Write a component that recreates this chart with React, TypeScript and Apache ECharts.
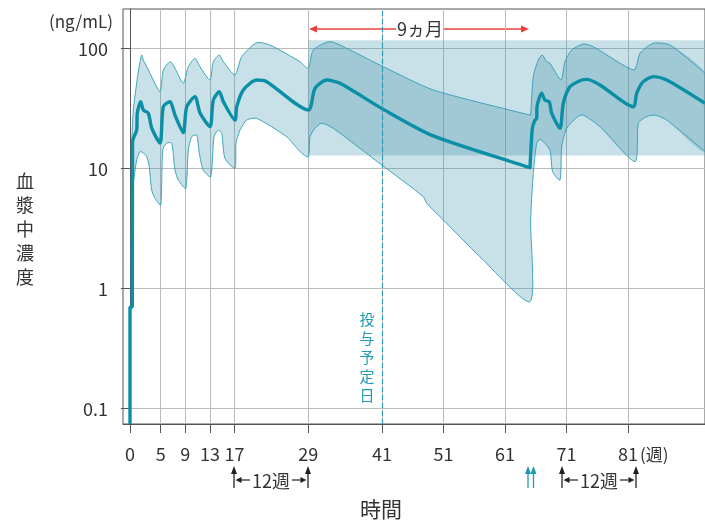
import React, { useEffect, useRef } from "react";
import * as echarts from "echarts";

// x-axis tick weeks and y-axis tick values (ng/mL)
const xTicks = [0, 5, 9, 13, 17, 29, 41, 51, 61, 71, 81];
const yTicks = [0.1, 1, 10, 100];

// median concentration [week, ng/mL]
const median: [number, number][] = [
  [0, 0.0736], [0, 0.695], [0.37, 0.695], [0.41, 16.6], [0.65, 18.2], [1.09, 20.7],
  [1.19, 28.7], [1.74, 35.7], [2.16, 30.4], [2.98, 28.6], [3.53, 21.5], [4.88, 16.1],
  [5.42, 32.4], [6.51, 35.7], [7.32, 27.6], [8.67, 19.7], [9.22, 32.4], [10.57, 39.3],
  [11.39, 28.7], [13.01, 22.1], [13.55, 36.8], [14.53, 43.3], [15.18, 35.7], [17.08, 25.1],
  [17.36, 32.4], [18.43, 44.7], [20.61, 54.1], [22.23, 52.4], [29.0, 30.4], [30.09, 46.1],
  [32.0, 54.1], [34.16, 50.8], [40.94, 31.4], [49.33, 18.5], [65.06, 10.06], [65.15, 10.0],
  [65.44, 21.4], [65.88, 25.1], [66.15, 25.9], [66.2, 32.4], [66.97, 41.9], [67.5, 36.8],
  [68.2, 35.7], [68.59, 28.6], [69.94, 21.4], [70.48, 34.6], [71.57, 47.6], [73.47, 54.1],
  [74.28, 54.8], [76.45, 49.2], [81.86, 32.4], [82.42, 41.9], [83.49, 52.4], [85.12, 57.7],
  [87.3, 54.1], [93.53, 34.6],
];

// upper bound of the range [week, ng/mL]
const upper: [number, number][] = [
  [0.28, 16.2], [0.54, 30.4], [1.09, 51.1], [1.35, 63.5], [1.9, 87.4], [2.16, 79.4],
  [2.44, 74.6], [3.25, 61.5], [4.88, 43.3], [5.42, 65.6], [6.51, 76.9], [7.04, 72.1],
  [8.67, 50.8], [9.48, 69.8], [10.57, 82.1], [11.39, 69.8], [13.01, 54.1], [13.55, 76.9],
  [14.53, 87.4], [15.18, 76.9], [17.08, 59.6], [18.17, 84.6], [20.61, 110.7], [22.77, 105.9],
  [27.65, 76.9], [29.0, 67.8], [29.81, 96.2], [32.53, 112.9], [35.78, 96.2], [41.2, 69.8],
  [49.33, 44.7], [65.06, 27.6], [65.17, 27.6], [65.6, 57.7], [66.41, 79.4], [67.06, 87.4],
  [67.78, 76.9], [68.31, 74.6], [70.1, 54.1], [70.75, 76.9], [71.84, 96.2], [73.73, 108],
  [75.36, 102.5], [81.98, 65.6], [82.95, 90.3], [85.12, 109.4], [87.83, 105.9], [93.53, 61.5],
];

// lower bound of the range [week, ng/mL]
const lower: [number, number][] = [
  [0.44, 6.56], [0.54, 7.5], [1.09, 11.7], [1.63, 13.7], [2.16, 13.3], [2.72, 12.4],
  [3.09, 10.6], [3.53, 6.56], [4.07, 5.59], [4.99, 4.92], [5.32, 14.1], [5.97, 16.1],
  [6.78, 16.1], [7.32, 9.6], [7.86, 7.94], [9.06, 6.77], [9.48, 14.1], [10.04, 18.2],
  [10.85, 18.8], [11.27, 13.3], [11.92, 9.6], [13.13, 8.46], [13.66, 18.2], [14.36, 20.7],
  [14.92, 19.5], [15.45, 12.0], [17.08, 9.94], [17.24, 16.1], [17.89, 20.7], [18.98, 25.1],
  [20.61, 25.9], [25.49, 18.2], [27.65, 13.7], [29.0, 12.4], [29.28, 18.2], [30.09, 21.4],
  [31.18, 23.6], [33.07, 21.4], [40.94, 10.6], [47.71, 5.77], [48.26, 5.08], [50.96, 3.69],
  [56.93, 1.82], [65.06, 0.769], [65.17, 3.69], [65.6, 9.03], [66.15, 16.1], [66.69, 17.3],
  [67.23, 16.6], [68.31, 14.1], [68.75, 9.3], [69.94, 7.94], [70.22, 15.0], [71.03, 21.4],
  [72.92, 27.1], [73.73, 27.6], [76.45, 22.1], [82.15, 11.3], [82.69, 23.6], [84.04, 26.8],
  [85.39, 27.6], [87.3, 25.1], [93.53, 13.7],
];

// target range box (from week 29 onward)
const targetStart = 29;
const targetLow = 12.7;
const targetHigh = 116;
const plannedDoseWeek = 41;

const yTitle = ["血", "漿", "中", "濃", "度"];
const doseLabel = ["投", "与", "予", "定", "日"];

const FONT = "'Noto Sans CJK JP', 'Noto Sans', sans-serif";
const TEAL = "#0a8fa6";
const EDGE = "#2e9db4";
const FILL = "rgba(50,140,166,0.27)";
const TXT = "#333";
const SMOOTH = 0.22;

export default function App() {
  const ref = useRef<HTMLDivElement>(null);
  useEffect(() => {
    if (!ref.current) return;
    const chart = echarts.init(ref.current, null, { renderer: "svg" });
    const xMin = -1.1385;
    const xMax = 93.53;

    const upArrow = (x: number, color: string) => [
      { type: "line", shape: { x1: x, y1: 472, x2: x, y2: 488 }, style: { stroke: color, lineWidth: 1.3 } },
      { type: "polygon", shape: { points: [[x, 466], [x - 3, 474], [x + 3, 474]] }, style: { fill: color } },
    ];
    const span = (xl: number, xr: number, y: number) => {
      const cx = (xl + xr) / 2;
      return [
        ...upArrow(xl, "#222"),
        ...upArrow(xr, "#222"),
        { type: "line", shape: { x1: xl + 5, y1: y, x2: xl + 16, y2: y }, style: { stroke: "#222", lineWidth: 1.2 } },
        { type: "polygon", shape: { points: [[xl + 1.5, y], [xl + 7.5, y - 3], [xl + 7.5, y + 3]] }, style: { fill: "#222" } },
        { type: "line", shape: { x1: xr - 16, y1: y, x2: xr - 5, y2: y }, style: { stroke: "#222", lineWidth: 1.2 } },
        { type: "polygon", shape: { points: [[xr - 1.5, y], [xr - 7.5, y - 3], [xr - 7.5, y + 3]] }, style: { fill: "#222" } },
        { type: "text", x: cx, y: y, style: { text: "12週", font: `18px ${FONT}`, fill: TXT, align: "center", verticalAlign: "middle" } },
      ];
    };
    const vText = (chars: string[], x: number, y0: number, step: number, size: number, color: string) =>
      chars.map((c, i) => ({
        type: "text",
        x,
        y: y0 + i * step,
        style: { text: c, font: `${size}px ${FONT}`, fill: color, align: "center", verticalAlign: "middle" },
      }));

    chart.setOption({
      animation: false,
      grid: { left: 123, right: 0, top: 9, bottom: 100, show: true, borderColor: "#555", borderWidth: 1, outerBoundsMode: "none" },
      xAxis: {
        type: "value",
        min: xMin,
        max: xMax,
        axisLine: { show: true, lineStyle: { color: "#555" } },
        axisTick: { show: true, length: 9, customValues: xTicks, lineStyle: { color: "#555" } },
        axisLabel: { customValues: xTicks, color: TXT, fontSize: 18, fontFamily: FONT, margin: 20 },
        splitLine: { show: true, lineStyle: { color: "#bbb", width: 1 } },
      },
      yAxis: {
        type: "log",
        min: 0.07356,
        max: 211.3,
        axisLine: { show: true, lineStyle: { color: "#555" } },
        axisTick: { show: true, length: 9, customValues: yTicks, lineStyle: { color: "#555" } },
        axisLabel: {
          customValues: yTicks,
          color: TXT,
          fontSize: 18,
          fontFamily: FONT,
          margin: 15,
          formatter: (v: number) => (v < 0.5 ? "0.1" : String(Math.round(v))),
        },
        splitLine: { show: true, lineStyle: { color: "#bbb", width: 1 } },
        minorTick: { show: false },
        minorSplitLine: { show: false },
      },
      series: [
        {
          type: "custom",
          clip: true,
          silent: true,
          data: [[0, 1]],
          renderItem: (params: any, api: any) => {
            if (params.dataIndex !== 0) return null;
            const up = upper.map((p) => api.coord(p));
            const lo = lower.map((p) => api.coord(p));
            return {
              type: "group",
              children: [
                { type: "polygon", shape: { points: up.concat(lo.slice().reverse()), smooth: SMOOTH }, style: { fill: FILL, stroke: null } },
                { type: "polyline", shape: { points: up, smooth: SMOOTH }, style: { stroke: EDGE, lineWidth: 0.9, fill: null } },
                { type: "polyline", shape: { points: lo, smooth: SMOOTH }, style: { stroke: EDGE, lineWidth: 0.9, fill: null } },
              ],
            };
          },
          markArea: {
            silent: true,
            itemStyle: { color: FILL },
            label: { show: false },
            data: [[{ xAxis: targetStart, yAxis: targetLow }, { xAxis: xMax, yAxis: targetHigh }]],
          },
          z: 2,
        },
        {
          type: "line",
          data: median,
          showSymbol: false,
          symbol: "none",
          smooth: 0.25,
          lineStyle: { color: TEAL, width: 3.4 },
          z: 4,
          markLine: {
            silent: true,
            symbol: "none",
            label: { show: false },
            lineStyle: { color: EDGE, type: [5, 3], width: 1.2 },
            data: [{ xAxis: plannedDoseWeek }],
          },
        },
      ],
      graphic: [
        { type: "text", x: 113, y: 20, style: { text: "(ng/mL)", font: `17px ${FONT}`, fill: TXT, align: "right", verticalAlign: "middle" } },
        ...vText(yTitle, 25, 180, 24, 18, TXT),
        { type: "text", x: 381, y: 508, style: { text: "時間", font: `21px ${FONT}`, fill: TXT, align: "center", verticalAlign: "middle" } },
        { type: "text", x: 640, y: 453, style: { text: "(週)", font: `17px ${FONT}`, fill: TXT, align: "left", verticalAlign: "middle" } },
        ...vText(doseLabel, 367, 318, 19, 15, "#1f9ab4"),
        { type: "line", shape: { x1: 312, y1: 29, x2: 396, y2: 29 }, style: { stroke: "#e8403c", lineWidth: 1.6 } },
        { type: "polygon", shape: { points: [[309, 29], [317, 25.5], [317, 32.5]] }, style: { fill: "#e8403c" } },
        { type: "line", shape: { x1: 444, y1: 29, x2: 526, y2: 29 }, style: { stroke: "#e8403c", lineWidth: 1.6 } },
        { type: "polygon", shape: { points: [[529, 29], [521, 25.5], [521, 32.5]] }, style: { fill: "#e8403c" } },
        { type: "text", x: 420, y: 28, style: { text: "9ヵ月", font: `18px ${FONT}`, fill: TXT, align: "center", verticalAlign: "middle" } },
        ...span(234, 308, 480),
        ...span(562, 636, 480),
        ...upArrow(528, "#1a9bb5"),
        ...upArrow(533.5, "#1a9bb5"),
      ],
    });
    return () => chart.dispose();
  }, []);
  return <div ref={ref} style={{ position: "fixed", left: 0, top: 0, width: 705, height: 524 }} />;
}
